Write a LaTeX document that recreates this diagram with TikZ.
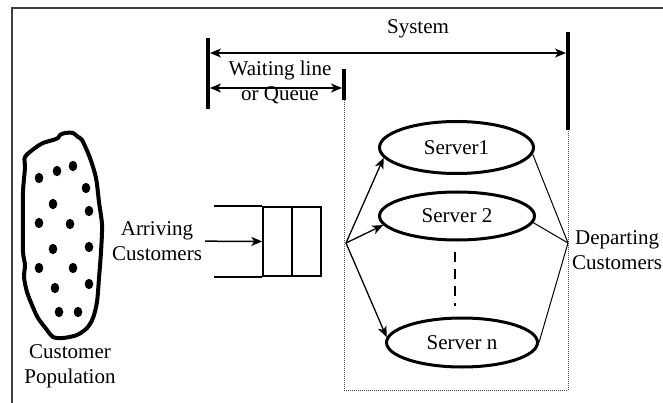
\documentclass[tikz,border=0pt]{standalone}
\usepackage{fontspec}
\setmainfont{Liberation Serif}
\usetikzlibrary{arrows.meta}
\usetikzlibrary{shapes.geometric}
\tikzset{
  >={Stealth[length=11pt,width=9pt,inset=3pt]},
  server/.style = {ellipse, draw, line width=3pt, inner sep=0pt},
  cell/.style = {rectangle, draw, line width=1.5pt, minimum width=29pt, minimum height=69pt, inner sep=0pt},
  bar/.style = {line width=4pt},
  dimline/.style = {<->, line width=1.3pt, shorten <=2pt, shorten >=2pt},
  dotline/.style = {densely dotted, line width=1pt, black!70},
  txt/.style = {align=center, inner sep=0pt},
}

\begin{document}
\begin{tikzpicture}[x=1pt, y=-1pt, font=\fontsize{21}{25}\selectfont]
    \useasboundingbox (0,0) rectangle (663,403);
    \clip (0,0) rectangle (663,403);
    \draw[line width=1.5pt, black!75] (12,8) rectangle (700,440);

    % customer population
    \draw[line width=4pt] plot[smooth cycle, tension=0.5] coordinates {
      (25,157) (35,148) (43,143) (53,140) (58,138) (60,135) (65,133) (73,133)
      (78,137) (82,140) (90,158) (96,178) (99,202) (102,225) (101,252) (99,278)
      (97,302) (93,318) (87,328) (77,335) (63,338) (53,337) (47,330) (38,318)
      (32,305) (27,292) (24,277) (25,265) (23,252) (23,225) (23,192) (25,168)};
    \foreach \x/\y in {39/178, 57/171, 73/166, 86/188, 53/204, 89/211, 39/223, 70/224,
                       53/249, 89/247, 39/268, 73/268, 55/288, 89/284, 59/312, 78/312}
      \fill (\x,\y) ellipse [x radius=4.3, y radius=5.2];
    \node[txt] (popul) at (70,366) {Customer\\Population};

    % queue
    \node[txt] (arrive) at (157,241) {Arriving\\Customers};
    \node[cell] (c1) at (277.5,241.5) {};
    \node[cell] (c2) at (306.5,241.5) {};
    \draw[line width=1.5pt] (c1.north west) -- +(-48,0);
    \draw[line width=1.5pt] (c1.south west) -- +(-48,0);
    \draw[->, line width=1.5pt, shorten <=3pt] (arrive) -- (c1);

    % servers
    \node[server, minimum width=154pt, minimum height=52pt] (s1) at (456.5,147.5) {Server1};
    \node[server, minimum width=155pt, minimum height=48pt] (s2) at (457,216) {Server 2};
    \node[server, minimum width=151pt, minimum height=49pt] (s3) at (462,342.5) {Server n};
    \draw[line width=2pt, dash pattern=on 10pt off 7pt, shorten <=10pt, shorten >=11pt]
      ([xshift=-2pt]s2.south) -- ([xshift=-2pt]s2.south |- s3.north);

    \coordinate (fork) at (346,243);
    \coordinate (join) at (568,243);
    \draw[->, line width=1.3pt] (fork) -- (s1.188);
    \draw[->, line width=1.3pt] (fork) -- (s2.187);
    \draw[->, line width=1.3pt] (fork) -- (s3.176);
    \draw[line width=1pt] (join) -- (s1.-5);
    \draw[line width=1pt] (join) -- (s2.-5);
    \draw[line width=1pt] (join) -- (s3.0);
    \node[txt, anchor=west] (depart) at (572,250) {Departing\\Customers};

    % system and waiting line
    \coordinate (ltop) at (208,38);
    \coordinate (lbot) at (208,109);
    \coordinate (qtop) at (344,69);
    \coordinate (qbot) at (344,100);
    \coordinate (rtop) at (568,32);
    \coordinate (rbot) at (568,130);
    \coordinate (base) at (456,390);
    \draw[bar] (ltop) -- (lbot);
    \draw[bar] (qtop) -- (qbot);
    \draw[bar] (rtop) -- (rbot);
    \draw[dimline] ([yshift=-15pt]ltop) -- ([yshift=-21pt]rtop);
    \draw[dimline] ([yshift=-50pt]ltop) -- ([yshift=-19pt]qtop);
    \draw[dotline] (qbot) |- (base) -| (rbot);
    \node[txt] (system) at (418,29) {System};
    \node[txt] (waiting) at (280,82) {Waiting line\\or Queue};
\end{tikzpicture}
\end{document}
